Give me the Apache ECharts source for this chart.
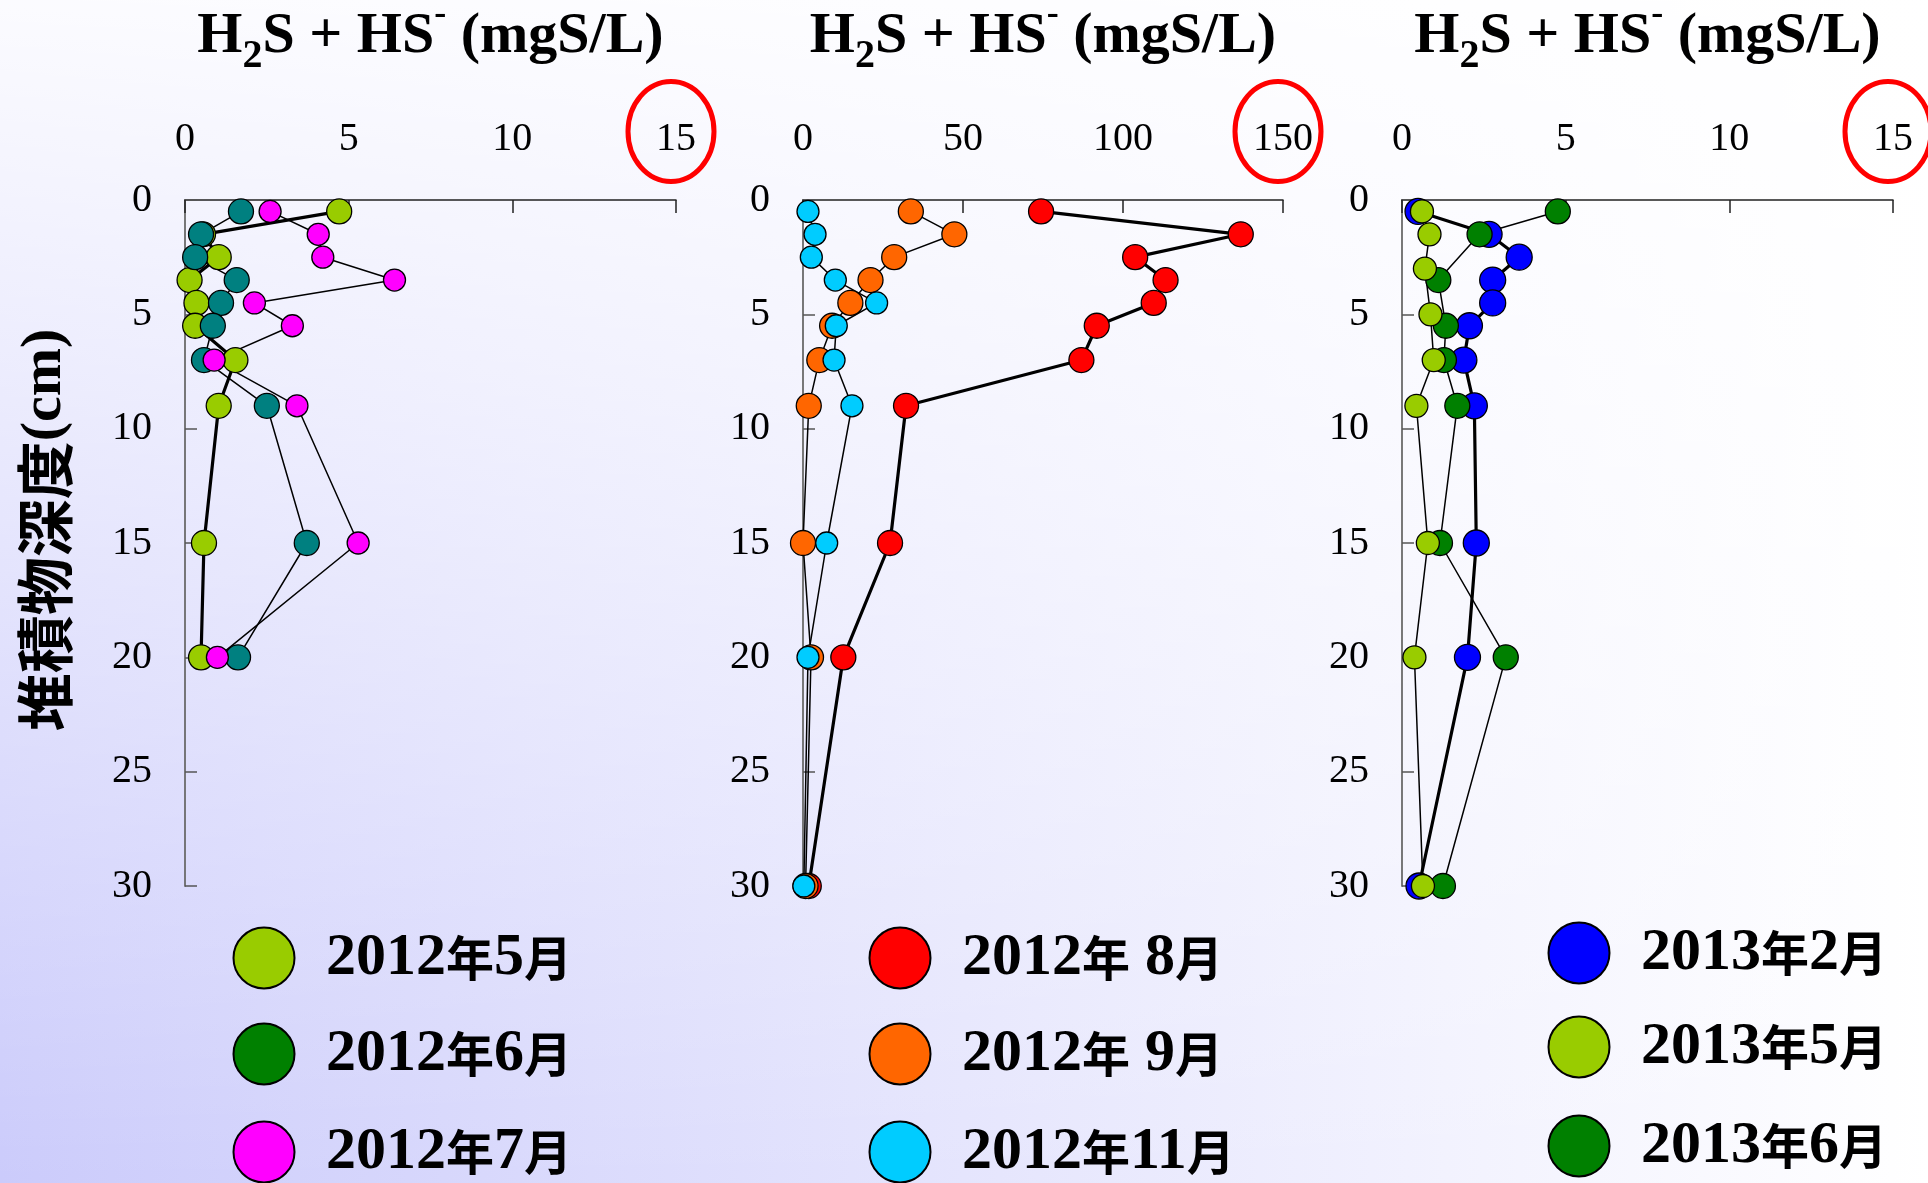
<!DOCTYPE html>
<html>
<head>
<meta charset="utf-8">
<script src="https://cdn.jsdelivr.net/npm/echarts@6/dist/echarts.min.js"></script>
<style>
  html, body { margin: 0; padding: 0; }
  #main { width: 1928px; height: 1183px; }
</style>
</head>
<body>
<div id="main"></div>
<script>
// ---- Data: H2S + HS- (mgS/L) against sediment depth (cm) ----
const depths = [0.5, 1.5, 2.5, 3.5, 4.5, 5.5, 7, 9, 15, 20];
const depthsTo30 = [0.5, 1.5, 2.5, 3.5, 4.5, 5.5, 7, 9, 15, 20, 30];
const depthsMay2013 = [0.5, 1.5, 3, 5, 7, 9, 15, 20, 30];
const depthsJun2013 = [0.5, 1.5, 3.5, 5.5, 7, 9, 15, 20, 30];

// 2012 spring-summer (left panel, 0-15)
const may2012 = [4.71, 0.55, 1.03, 0.14, 0.35, 0.31, 1.54, 1.03, 0.58, 0.49];
const jun2012 = [1.71, 0.49, 0.31, 1.58, 1.10, 0.85, 0.58, 2.50, 3.72, 1.62];
const jul2012 = [2.60, 4.07, 4.21, 6.40, 2.12, 3.28, 0.89, 3.42, 5.29, 0.99];

// 2012 summer-autumn (middle panel, 0-150)
const aug2012 = [74.4, 136.8, 103.8, 113.3, 109.6, 91.8, 87.0, 32.2, 27.2, 12.6, 1.8];
const sep2012 = [33.7, 47.3, 28.5, 21.1, 14.8, 9.1, 5.1, 1.8, 0, 2.5, 0.8];
const nov2012 = [1.56, 3.76, 2.6, 10.1, 23.0, 10.4, 9.7, 15.3, 7.4, 1.56, 0.26];

// 2013 (right panel, 0-15)
const feb2013 = [0.49, 2.66, 3.58, 2.77, 2.77, 2.06, 1.89, 2.21, 2.27, 2.0, 0.52];
const may2013 = [0.61, 0.84, 0.70, 0.87, 0.97, 0.44, 0.79, 0.38, 0.64];
const jun2013 = [4.76, 2.37, 1.11, 1.34, 1.28, 1.69, 1.16, 3.17, 1.25];

// Axis ticks
const xTicksSmall = [0, 5, 10, 15];
const xTicksLarge = [0, 50, 100, 150];
const yTicks = [0, 5, 10, 15, 20, 25, 30];

// Legend labels, one column per panel
const legendLabels = [
  ['2012年5月', '2012年6月', '2012年7月'],
  ['2012年 8月', '2012年 9月', '2012年11月'],
  ['2013年2月', '2013年5月', '2013年6月']
];

// ---- Styles ----
const C = {
  yg: '#99cc00', teal: '#008080', green: '#008000', magenta: '#ff00ff',
  red: '#ff0000', orange: '#ff6600', cyan: '#00ccff', blue: '#0000ff'
};
const legendColors = [
  [C.yg, C.green, C.magenta],
  [C.red, C.orange, C.cyan],
  [C.blue, C.yg, C.green]
];

const grids = [
  { left: 185, top: 200, width: 491, height: 686 },
  { left: 803, top: 200, width: 480, height: 686 },
  { left: 1402, top: 200, width: 491, height: 686 }
];
const xTickSets = [xTicksSmall, xTicksLarge, xTicksSmall];

const SERIF = '"Liberation Serif", "Times New Roman", serif';
const CJK = '"Noto Sans CJK JP", sans-serif';

function xAxisFor(i) {
  const t = xTickSets[i];
  return {
    type: 'value', gridIndex: i, position: 'top',
    min: t[0], max: t[t.length - 1], interval: t[1] - t[0],
    axisLine: { onZero: false, lineStyle: { color: '#222', width: 1.5 } },
    axisTick: { inside: true, length: 13, lineStyle: { color: '#222', width: 1.5 } },
    splitLine: { show: false },
    axisLabel: { margin: 41, color: '#000', fontFamily: SERIF, fontSize: 40,
                 showMinLabel: true, showMaxLabel: true }
  };
}
function yAxisFor(i) {
  return {
    type: 'value', gridIndex: i, inverse: true,
    min: yTicks[0], max: yTicks[yTicks.length - 1], interval: yTicks[1] - yTicks[0],
    axisLine: { onZero: false, lineStyle: { color: '#6a6a6a', width: 1.8 } },
    axisTick: { inside: true, length: 12, lineStyle: { color: '#555', width: 1.5 } },
    splitLine: { show: false },
    axisLabel: { margin: 33, color: '#000', fontFamily: SERIF, fontSize: 40,
                 showMinLabel: true, showMaxLabel: true }
  };
}

function profile(name, panel, values, depthList, color, size, lineWidth) {
  return {
    name: name, type: 'line', xAxisIndex: panel, yAxisIndex: panel,
    data: values.map((v, k) => [v, depthList[k]]),
    symbol: 'circle', symbolSize: size, showAllSymbol: true, clip: false,
    itemStyle: { color: color, borderColor: '#000', borderWidth: 1.3 },
    lineStyle: { color: '#000', width: lineWidth },
    emphasis: { disabled: true },
    animation: false
  };
}

const series = [
  profile('2012年5月', 0, may2012, depths, C.yg, 25, 3.2),
  profile('2012年6月', 0, jun2012, depths, C.teal, 25, 1.5),
  profile('2012年7月', 0, jul2012, depths, C.magenta, 22, 1.5),
  profile('2012年 8月', 1, aug2012, depthsTo30, C.red, 25, 3.2),
  profile('2012年 9月', 1, sep2012, depthsTo30, C.orange, 25, 1.5),
  profile('2012年11月', 1, nov2012, depthsTo30, C.cyan, 22, 1.5),
  profile('2013年2月', 2, feb2013, depthsTo30, C.blue, 26, 3.2),
  profile('2013年6月', 2, jun2013, depthsJun2013, C.green, 25, 1.5),
  profile('2013年5月', 2, may2013, depthsMay2013, C.yg, 23, 1.5)
];

// ---- Decorations: background haze, titles, depth label, legend ----
const graphics = [];
graphics.push({
  type: 'rect', id: 'haze', z: -100, silent: true,
  shape: { x: 0, y: 0, width: 1928, height: 1183 },
  style: { fill: new echarts.graphic.LinearGradient(0, 0, 0, 1, [
    { offset: 0, color: 'rgba(255,255,255,0.93)' },
    { offset: 1, color: 'rgba(255,255,255,0)' }
  ]) }
});

const titleText = '{a|H}{sub|2}{a|S + HS}{sup|-}{a| (mgS/L)}';
grids.forEach((g, i) => {
  graphics.push({
    type: 'text', id: 'title' + i, z: 50, silent: true,
    x: g.left + g.width / 2, y: -3,
    style: {
      text: titleText, align: 'center', verticalAlign: 'top',
      rich: {
        a: { fontFamily: SERIF, fontWeight: 'bold', fontSize: 58, lineHeight: 80, fill: '#000' },
        sub: { fontFamily: SERIF, fontWeight: 'bold', fontSize: 40, lineHeight: 40,
               verticalAlign: 'bottom', fill: '#000' },
        sup: { fontFamily: SERIF, fontWeight: 'bold', fontSize: 36, lineHeight: 58,
               verticalAlign: 'top', fill: '#000' }
      }
    }
  });
});

graphics.push({
  type: 'text', id: 'depthName', z: 50, silent: true,
  x: 45, y: 530, rotation: Math.PI / 2,
  style: {
    text: '{c|堆積物深度}{r|(cm)}', align: 'center', verticalAlign: 'middle',
    rich: {
      c: { fontFamily: CJK, fontWeight: 'bold', fontSize: 58, fill: '#000' },
      r: { fontFamily: SERIF, fontWeight: 'bold', fontSize: 58, fill: '#000' }
    }
  }
});

const legendCols = [264, 900, 1579];
const legendRows = [
  [958, 1054, 1152],
  [958, 1054, 1152],
  [953, 1047, 1146]
];
function legendRich(label) {
  return label.replace(/([^年月]+)|([年月])/g, (m, d, c) => d ? '{d|' + d + '}' : '{c|' + c + '}');
}
legendLabels.forEach((col, ci) => {
  col.forEach((label, ri) => {
    const cx = legendCols[ci], cy = legendRows[ci][ri];
    graphics.push({
      type: 'circle', id: 'lg' + ci + ri, z: 60, silent: true,
      shape: { cx: cx, cy: cy, r: 30.5 },
      style: { fill: legendColors[ci][ri], stroke: '#000', lineWidth: 2 }
    });
    graphics.push({
      type: 'text', id: 'lt' + ci + ri, z: 60, silent: true,
      x: cx + 62, y: cy,
      style: {
        text: legendRich(label), align: 'left', verticalAlign: 'middle',
        rich: {
          d: { fontFamily: SERIF, fontWeight: 'bold', fontSize: 60, fill: '#000' },
          c: { fontFamily: CJK, fontWeight: 'bold', fontSize: 48, fill: '#000' }
        }
      }
    });
  });
});

const chart = echarts.init(document.getElementById('main'), null, { renderer: 'canvas' });
chart.setOption({
  animation: false,
  backgroundColor: new echarts.graphic.LinearGradient(0, 0, 1, 0, [
    { offset: 0, color: '#cbcbfb' },
    { offset: 1, color: '#ffffff' }
  ]),
  grid: grids,
  xAxis: [0, 1, 2].map(xAxisFor),
  yAxis: [0, 1, 2].map(yAxisFor),
  series: series,
  graphic: { elements: graphics }
});

// Red rings highlighting each panel's full-scale value
const rings = [0, 1, 2].map(i => {
  const t = xTickSets[i];
  const px = chart.convertToPixel({ xAxisIndex: i }, t[t.length - 1]);
  return {
    type: 'ellipse', id: 'ring' + i, z: 70, silent: true,
    shape: { cx: px - 5, cy: 131.5, rx: 43, ry: 50 },
    style: { fill: 'none', stroke: '#ff0000', lineWidth: 5 }
  };
});
chart.setOption({ graphic: { elements: rings } });
</script>
</body>
</html>
